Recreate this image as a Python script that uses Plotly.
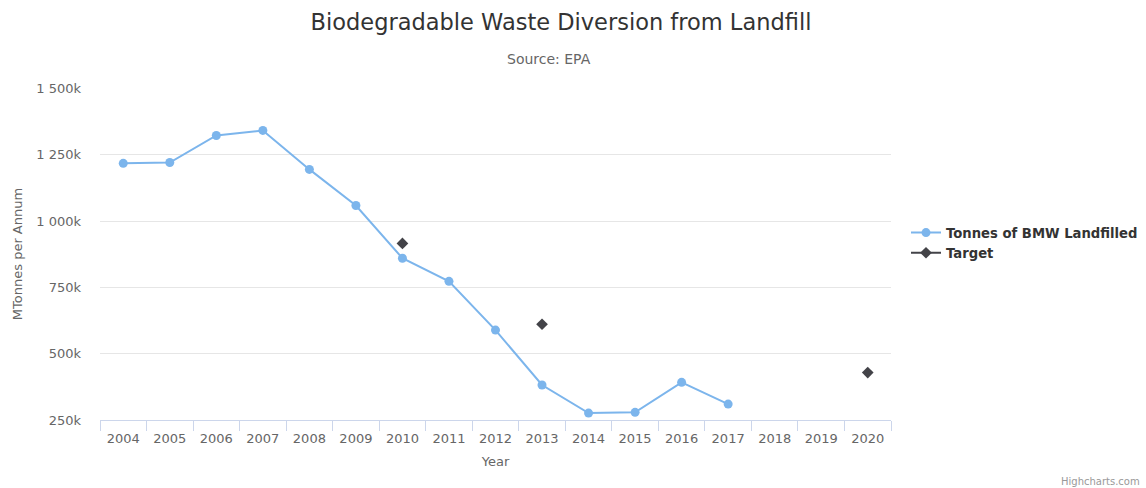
import plotly.graph_objects as go

years = ["2004", "2005", "2006", "2007", "2008", "2009", "2010", "2011", "2012",
         "2013", "2014", "2015", "2016", "2017", "2018", "2019", "2020"]
landfilled = [1218000, 1221000, 1323000, 1342000, 1195000, 1059000, 860000, 773000,
              589000, 382000, 276000, 279000, 392000, 310000, None, None, None]
target = [None, None, None, None, None, None, 916000, None, None,
          611000, None, None, None, None, None, None, 429000]
y_tickvals = [250000, 500000, 750000, 1000000, 1250000, 1500000]
y_ticktext = ["250k", "500k", "750k", "1 000k", "1 250k", "1 500k"]

font = "DejaVu Sans, Verdana, sans-serif"
L, R, T, B = 100, 891, 88, 420
W, H = 1146, 488
PW, PH = R - L, B - T

fig = go.Figure()
fig.add_trace(go.Scatter(
    x=years, y=landfilled, name="Tonnes of BMW Landfilled", mode="lines+markers",
    line=dict(color="#7cb5ec", width=2), marker=dict(symbol="circle", size=9, color="#7cb5ec"),
    connectgaps=False))
fig.add_trace(go.Scatter(
    x=years, y=target, name="Target", mode="lines+markers", connectgaps=False,
    line=dict(color="#434348", width=2),
    marker=dict(symbol="diamond", size=9, color="#434348")))

fig.update_layout(
    width=W, height=H,
    margin=dict(l=L, r=W - R, t=T, b=H - B, autoexpand=False),
    paper_bgcolor="white", plot_bgcolor="white",
    font=dict(family=font, color="#666666", size=13),
    title=dict(text="Biodegradable Waste Diversion from Landfill", x=561 / W, xanchor="center",
               y=1 - 22 / H, yanchor="middle", font=dict(size=22.5, color="#333333")),
    annotations=[
        dict(text="Source: EPA", xref="paper", yref="paper", x=(549 - L) / PW,
             y=1 + (T - 59) / PH, xanchor="center", yanchor="middle", showarrow=False,
             font=dict(size=14, color="#666666")),
        dict(text="Highcharts.com", xref="paper", yref="paper", x=(1142 - L) / PW, y=-(481 - B) / PH,
             xanchor="right", yanchor="middle", showarrow=False, font=dict(size=10, color="#999999")),
    ],
    legend=dict(x=(906 - L) / PW, y=(B - 243) / PH, xanchor="left", yanchor="middle",
                font=dict(size=13.2, color="#333333", family=font, weight="bold"), itemwidth=30,
                tracegroupgap=4, bgcolor="rgba(0,0,0,0)"),
    xaxis=dict(type="category", categoryorder="array", categoryarray=years,
               range=[-0.5, 16.5], tickson="boundaries", ticks="outside", ticklen=10,
               tickcolor="#ccd6eb", showline=True, linecolor="#ccd6eb", linewidth=1,
               showgrid=False, tickfont=dict(size=13, color="#666666"), ticklabelstandoff=6,
               title=dict(text="Year", font=dict(size=13, color="#666666"), standoff=12)),
    yaxis=dict(range=[250000, 1502000], tickvals=y_tickvals, ticktext=y_ticktext,
               showgrid=True, gridcolor="#e6e6e6", gridwidth=1, zeroline=False,
               showline=False, ticks="", tickfont=dict(size=13, color="#666666"),
               ticklabelstandoff=18,
               title=dict(text="MTonnes per Annum", font=dict(size=13, color="#666666"), standoff=10)),
)

fig.write_html("out.html", config={"displayModeBar": False},
               post_script="document.body.style.margin='0';document.body.style.padding='0';")
